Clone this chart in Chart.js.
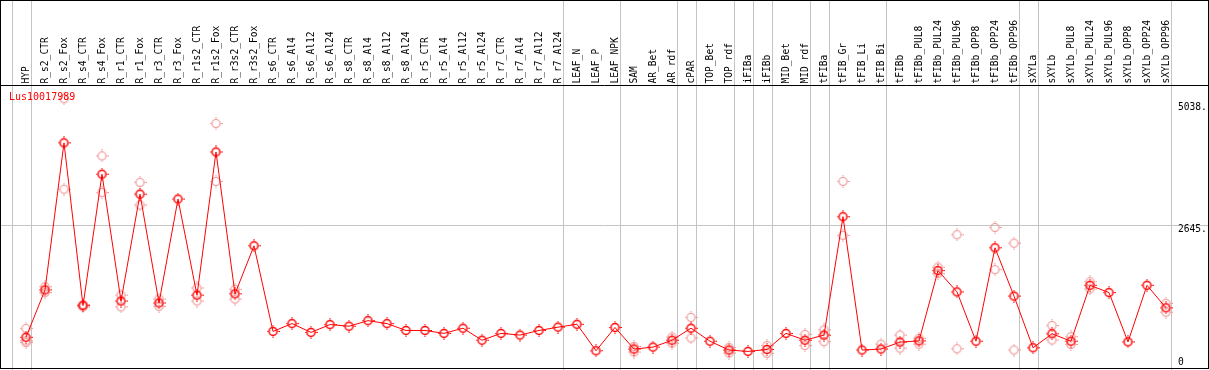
<!DOCTYPE html>
<html>
<head>
<meta charset="utf-8">
<script src="https://cdn.jsdelivr.net/npm/chart.js@4"></script>
<style>
  html, body { margin: 0; padding: 0; background: #fff; }
  canvas { display: block; }
</style>
</head>
<body>
<canvas id="chart" width="1209" height="370"></canvas>
<script>
const geneName = 'Lus10017989';

const categories = [
  'HYP', 'R_s2_CTR', 'R_s2_Fox', 'R_s4_CTR', 'R_s4_Fox', 'R_r1_CTR', 'R_r1_Fox', 'R_r3_CTR', 'R_r3_Fox',
  'R_r1s2_CTR', 'R_r1s2_Fox', 'R_r3s2_CTR', 'R_r3s2_Fox',
  'R_s6_CTR', 'R_s6_Al4', 'R_s6_Al12', 'R_s6_Al24', 'R_s8_CTR', 'R_s8_Al4', 'R_s8_Al12', 'R_s8_Al24',
  'R_r5_CTR', 'R_r5_Al4', 'R_r5_Al12', 'R_r5_Al24', 'R_r7_CTR', 'R_r7_Al4', 'R_r7_Al12', 'R_r7_Al24',
  'LEAF_N', 'LEAF_P', 'LEAF_NPK', 'SAM', 'AR_Bet', 'AR_rdf', 'cPAR', 'TOP_Bet', 'TOP_rdf',
  'iFIBa', 'iFIBb', 'MID_Bet', 'MID_rdf', 'tFIBa', 'tFIB_Gr', 'tFIB_Li', 'tFIB_Bi', 'tFIBb',
  'tFIBb_PUL8', 'tFIBb_PUL24', 'tFIBb_PUL96', 'tFIBb_OPP8', 'tFIBb_OPP24', 'tFIBb_OPP96',
  'sXYLa', 'sXYLb', 'sXYLb_PUL8', 'sXYLb_PUL24', 'sXYLb_PUL96', 'sXYLb_OPP8', 'sXYLb_OPP24', 'sXYLb_OPP96'
];

// mean expression per sample
const means = [
  454, 1378, 4248, 1072, 3636, 1161, 3247, 1123, 3151,
  1276, 4070, 1301, 2239,
  568, 721, 549, 702, 670, 778, 721, 587,
  587, 530, 631, 396, 530, 497, 587, 651,
  708, 191, 645, 224, 262, 396, 631, 377, 205,
  178, 216, 530, 396, 497, 2807, 205, 224, 360,
  383, 1755, 1339, 377, 2200, 1257,
  249, 522, 377, 1468, 1326, 364, 1468, 1028
];

// replicate values (null where hidden behind the mean)
const repHigh = [
  625, 1441, 5109, 1096, 3993, 1276, 3477, 1200, null,
  1416, 4625, 1391, null,
  null, null, null, null, null, null, null, null,
  null, null, null, null, null, null, null, null,
  null, null, null, 274, null, 459, 842, null, 255,
  null, 293, null, 511, 599, 3496, null, 320, 497,
  434, 1824, 2455, null, 2597, 2290,
  null, 683, 465, 1537, null, null, null, 1116
];
const repLow = [
  383, 1326, 3343, 1046, 3278, 1046, 3036, 1058, null,
  1161, 3496, 1200, null,
  null, null, null, null, null, null, null, null,
  null, null, null, null, null, null, null, null,
  null, null, null, 166, null, 338, 440, null, 147,
  null, 140, null, 293, 369, 2444, null, null, 243,
  320, 1697, 230, null, 1774, 205,
  null, 402, 312, 1397, null, null, null, 943
];
const repExtra = [350].concat(new Array(60).fill(null));

const yTicks = [0, 2645, 5038];
const yTickLabels = ['0', '2645.', '5038.'];

// sample indexes followed by a group separator
const groupEnds = [-1, 0, 28, 31, 34, 35, 37, 38, 39, 41, 42, 45, 52, 53, 60];

function makeMarker(color, width) {
  const c = document.createElement('canvas');
  c.width = 13; c.height = 13;
  const g = c.getContext('2d');
  g.strokeStyle = color;
  g.lineWidth = width;
  g.beginPath();
  g.arc(6.5, 6.5, 4, 0, Math.PI * 2);
  g.stroke();
  g.lineWidth = 1;
  g.beginPath();
  g.moveTo(6.5, 0); g.lineTo(6.5, 1.5);
  g.moveTo(6.5, 11.5); g.lineTo(6.5, 13);
  g.moveTo(0, 6.5); g.lineTo(1.5, 6.5);
  g.moveTo(11.5, 6.5); g.lineTo(13, 6.5);
  g.stroke();
  return c;
}
const mainMarker = makeMarker('#ff0000', 1.5);
const repMarker = makeMarker('#ee9090', 1.1);

const monoFont = 'DejaVu Sans Mono';

const framePlugin = {
  id: 'frame',
  beforeDatasetsDraw(chart) {
    const {ctx, width, height} = chart;
    const {x, y} = chart.scales;
    ctx.save();
    ctx.strokeStyle = '#c4c4c4';
    ctx.lineWidth = 1;
    ctx.beginPath();
    groupEnds.forEach(i => {
      const px = Math.round(x.getPixelForValue(i) + 4.5) + 0.5;
      ctx.moveTo(px, 0);
      ctx.lineTo(px, height);
    });
    const py = Math.round(y.getPixelForValue(2645)) + 0.5;
    ctx.moveTo(0, py);
    ctx.lineTo(width, py);
    ctx.stroke();
    ctx.restore();
  },
  afterDraw(chart) {
    const {ctx, width} = chart;
    const {y} = chart.scales;
    ctx.save();
    ctx.strokeStyle = '#000';
    ctx.lineWidth = 1;
    ctx.strokeRect(0.5, 0.5, width - 1, 368);
    ctx.beginPath();
    ctx.moveTo(0, 85.5);
    ctx.lineTo(width, 85.5);
    ctx.stroke();

    ctx.font = '9.6px "' + monoFont + '"';
    ctx.fillStyle = '#000';
    ctx.textAlign = 'left';
    ctx.textBaseline = 'top';
    y.ticks.forEach((t, i) => {
      const py = Math.min(y.getPixelForValue(t.value), 358);
      ctx.fillText(yTickLabels[i], 1178, py);
    });

    ctx.font = '10px "' + monoFont + '"';
    ctx.fillStyle = '#ff0000';
    ctx.textBaseline = 'middle';
    ctx.fillText(geneName, 9, 97.5);
    ctx.restore();
  }
};

const repStyle = {
  showLine: false,
  pointStyle: repMarker,
  pointRadius: 6,
  borderColor: '#ee9090',
  backgroundColor: 'transparent'
};

new Chart(document.getElementById('chart'), {
  type: 'line',
  data: {
    labels: categories,
    datasets: [
      {
        label: geneName,
        data: means,
        borderColor: '#ff0000',
        borderWidth: 1,
        backgroundColor: 'transparent',
        pointStyle: mainMarker,
        pointRadius: 6,
        tension: 0,
        clip: false
      },
      Object.assign({label: 'rep1', data: repHigh}, repStyle),
      Object.assign({label: 'rep2', data: repLow}, repStyle),
      Object.assign({label: 'rep3', data: repExtra}, repStyle)
    ]
  },
  options: {
    responsive: false,
    animation: false,
    devicePixelRatio: 1,
    layout: { padding: { left: 16.5, right: 0, top: 0, bottom: 1.5 } },
    plugins: {
      legend: { display: false },
      tooltip: { enabled: false }
    },
    scales: {
      x: {
        position: 'top',
        offset: true,
        grid: { display: false },
        border: { display: false },
        ticks: {
          autoSkip: false,
          minRotation: 90,
          maxRotation: 90,
          padding: -6,
          labelOffset: 12,
          color: '#000',
          font: { family: monoFont, size: 9.6 }
        },
        afterFit(scale) { scale.height = 85.5; }
      },
      y: {
        position: 'right',
        min: -48,
        max: 5367,
        grid: { display: false },
        border: { display: false },
        ticks: { display: false },
        afterBuildTicks(scale) { scale.ticks = yTicks.map(v => ({value: v})); },
        afterFit(scale) { scale.width = 33.5; }
      }
    }
  },
  plugins: [framePlugin]
});
</script>
</body>
</html>
